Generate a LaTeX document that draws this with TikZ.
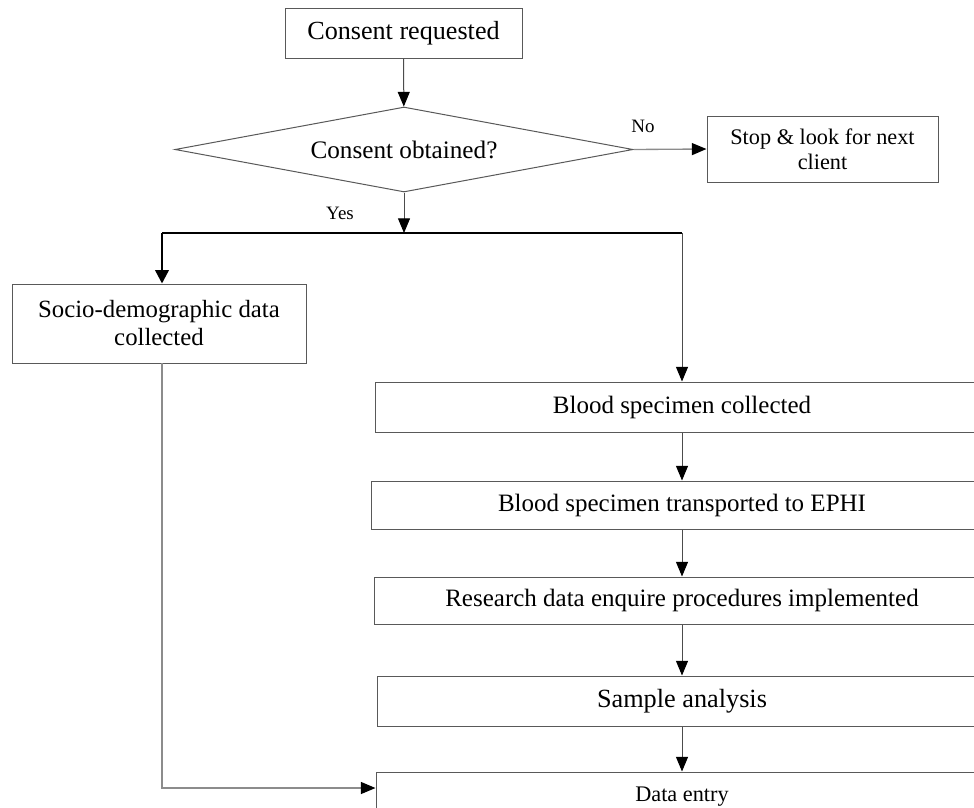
\documentclass[tikz,border=0pt]{standalone}
\usepackage{fontspec}
\setmainfont{Liberation Serif}
\usetikzlibrary{arrows.meta,shapes.geometric}
\tikzset{
  box/.style={draw=black!65, line width=0.75pt, rectangle, inner sep=0pt, align=center, text=black},
  conn/.style={draw=black!70, line width=0.75pt, -{Triangle[length=11pt,width=9pt,black]}},
  lightconn/.style={draw=black!45, line width=1pt, -{Triangle[length=11pt,width=9pt,black]}},
  thickline/.style={draw=black, line width=1.8pt},
  thickconn/.style={draw=black, line width=1.8pt, -{Triangle[length=10pt,width=10pt,black]}},
  lbl/.style={inner sep=0pt, font=\fontsize{14.2}{16}\selectfont},
  fA/.style={font=\fontsize{18.75}{21}\selectfont},
}
\begin{document}
\begin{tikzpicture}[x=0.75pt,y=-0.75pt]
\useasboundingbox (0,0) rectangle (974,807);
\fill[white] (0,0) rectangle (974,807);
\clip (0,0) rectangle (974,807);

% nodes
\node[box, minimum width=237*0.75pt, minimum height=50*0.75pt, font=\fontsize{19.6}{22}\selectfont] (req) at (403.5,33) {Consent requested};
\node[box, shape=diamond, aspect=5.4, minimum width=458*0.75pt, minimum height=85*0.75pt, font=\fontsize{18.9}{21}\selectfont] (dec) at (404,149.5) {Consent obtained?};
\node[box, minimum width=231*0.75pt, minimum height=66*0.75pt, font=\fontsize{16.7}{18.75}\selectfont] (stop) at (822.5,149) {Stop \& look for next\\client};
\node[box, minimum width=294*0.75pt, minimum height=79*0.75pt, font=\fontsize{18.6}{21}\selectfont] (socio) at (159,323.5) {Socio-demographic data\\collected};
\node[box, fA, minimum width=614*0.75pt, minimum height=50*0.75pt] (b1) at (682,407) {Blood specimen collected};
\node[box, fA, minimum width=622*0.75pt, minimum height=48*0.75pt] (b2) at (682,505) {Blood specimen transported to EPHI};
\node[box, fA, minimum width=616*0.75pt, minimum height=47*0.75pt] (b3) at (682,600.5) {Research data enquire procedures implemented};
\node[box, minimum width=610*0.75pt, minimum height=50*0.75pt, font=\fontsize{19.7}{22}\selectfont] (b4) at (682,701) {Sample analysis};
\node[box, minimum width=612*0.75pt, minimum height=50*0.75pt, font=\fontsize{16.7}{19}\selectfont] (b5) at (682,797) {Data entry};

% coordinates
\coordinate (jm) at (404,233);
\coordinate (jl) at (162,233);
\coordinate (jr) at (682,233);
\coordinate (sb) at (162,363);
\coordinate (lvl) at (0,788);

% connectors
\draw[conn] (req) -- (dec);
\draw[lightconn] (dec.east) -- (stop.west) node[lbl, pos=0.13, above=12pt] {No};
\draw[thickline] (jl) -- (jr);
\draw[conn] (dec.south) -- (jm);
\node[lbl] (yes) at (340,213) {Yes};
\draw[thickconn] (jl) -- (jl |- socio.north);
\draw[conn] (jr) -- (b1.north);
\draw[conn] (b1) -- (b2);
\draw[conn] (b2) -- (b3);
\draw[conn] (b3) -- (b4);
\draw[conn] (b4) -- (b5);
\draw[lightconn] (sb) |- (b5.west |- lvl);
\end{tikzpicture}
\end{document}
